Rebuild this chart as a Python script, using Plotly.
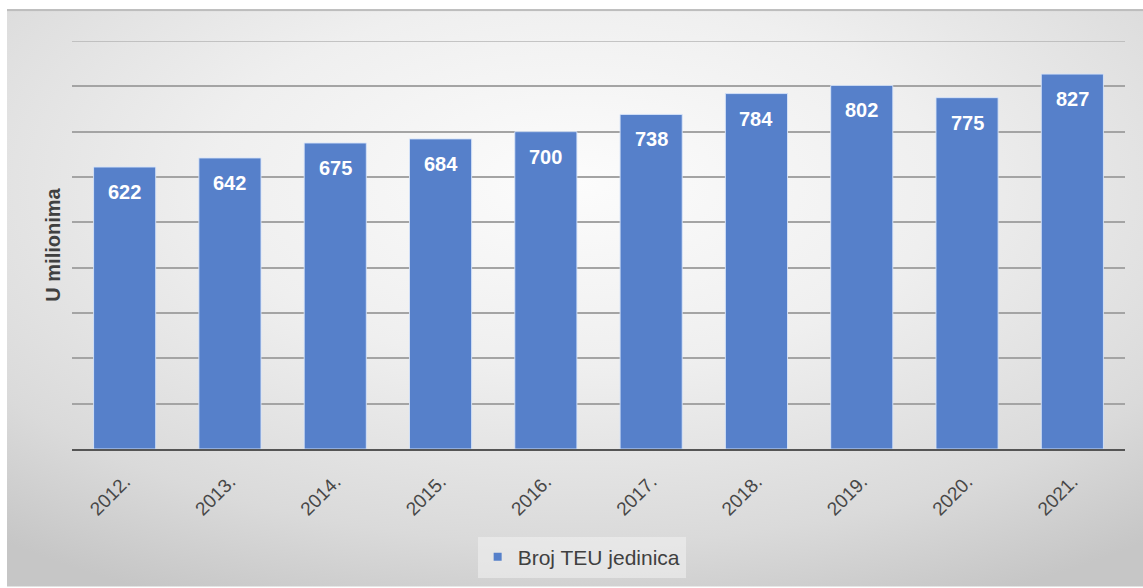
import base64
import plotly.graph_objects as go

# Container throughput, millions of TEU
years = ["2012.", "2013.", "2014.", "2015.", "2016.", "2017.", "2018.", "2019.", "2020.", "2021."]
teu_millions = [622, 642, 675, 684, 700, 738, 784, 802, 775, 827]
series_name = "Broj TEU jedinica"
y_title = "U milionima"
y_max = 900
y_step = 100

W, H = 1143, 588
ML, MR, MT, MB = 72, 18, 41, 138
plot_w = W - ML - MR
plot_h = H - MT - MB

BAR_COLOR = "#5680CA"
FONT = "Liberation Sans, Arial, sans-serif"

# Soft radial grey backdrop drawn as an SVG image behind the plot
svg = """<svg xmlns='http://www.w3.org/2000/svg' width='1136' height='579' preserveAspectRatio='none'>
<defs><radialGradient id='g' cx='0.5' cy='0.3' r='0.8'>
<stop offset='0' stop-color='#fcfcfc'/>
<stop offset='0.4' stop-color='#efefef'/>
<stop offset='0.78' stop-color='#dadada'/>
<stop offset='1' stop-color='#c6c6c6'/>
</radialGradient></defs>
<rect width='1136' height='579' fill='url(#g)'/>
<rect width='1136' height='2' fill='#bdbdbd'/>
</svg>"""
bg_uri = "data:image/svg+xml;base64," + base64.b64encode(svg.encode()).decode()

fig = go.Figure()
fig.add_trace(go.Bar(
    x=years,
    y=teu_millions,
    name=series_name,
    marker=dict(color=BAR_COLOR, line=dict(color="rgba(215,228,250,0.9)", width=1)),
    showlegend=False,
    hoverinfo="x+y",
))
# Legend entry with a small square swatch
fig.add_trace(go.Scatter(
    x=[None], y=[None], mode="markers", name=series_name,
    marker=dict(symbol="square", size=8, color=BAR_COLOR),
    showlegend=True, hoverinfo="skip",
))

# Value labels sitting just inside the top of each bar
# (positioned by category index so the numeric-looking labels stay on their bars)
for i, v in enumerate(teu_millions):
    fig.add_annotation(
        x=i, y=v, text=str(v), showarrow=False,
        yanchor="middle", yshift=-25,
        font=dict(family=FONT, size=20, color="white", weight="bold"),
    )

# Top gridline at the axis maximum
fig.add_shape(type="line", xref="paper", yref="y", x0=0, x1=1, y0=y_max, y1=y_max,
              line=dict(color="#b4b4b4", width=1.5), layer="below")

bg_x0 = -(ML - 7) / plot_w
bg_y1 = 1 + (MT - 9) / plot_h
fig.add_layout_image(dict(
    source=bg_uri, xref="paper", yref="paper",
    x=bg_x0, y=bg_y1, sizex=(W - 7) / plot_w, sizey=(H - 9) / plot_h,
    xanchor="left", yanchor="top", sizing="stretch", layer="below",
))

fig.update_layout(
    width=W, height=H,
    margin=dict(l=ML, r=MR, t=MT, b=MB, pad=0),
    paper_bgcolor="white",
    plot_bgcolor="rgba(0,0,0,0)",
    bargap=0.41,
    font=dict(family=FONT, color="#595959"),
    xaxis=dict(
        type="category",
        range=[-0.5, len(years) - 0.5],
        tickangle=-45,
        tickfont=dict(size=19, color="#474747"),
        ticklabelstandoff=12,
        showgrid=False,
        showline=True, linecolor="#555555", linewidth=2,
        ticks="",
    ),
    yaxis=dict(
        range=[0, y_max],
        tick0=0,
        dtick=y_step,
        showticklabels=False,
        showgrid=True, gridcolor="#a4a4a4", gridwidth=1.5,
        zeroline=False,
        title=dict(text=y_title, font=dict(size=20, color="#404040", weight="bold"), standoff=5),
    ),
    legend=dict(
        orientation="h",
        x=0.484, y=-0.262, xanchor="center", yanchor="middle",
        bgcolor="rgba(240,240,240,0.6)",
        font=dict(size=21, color="#404040"),
        itemwidth=30,
        itemsizing="trace",
    ),
)

fig.write_html("out.html")
